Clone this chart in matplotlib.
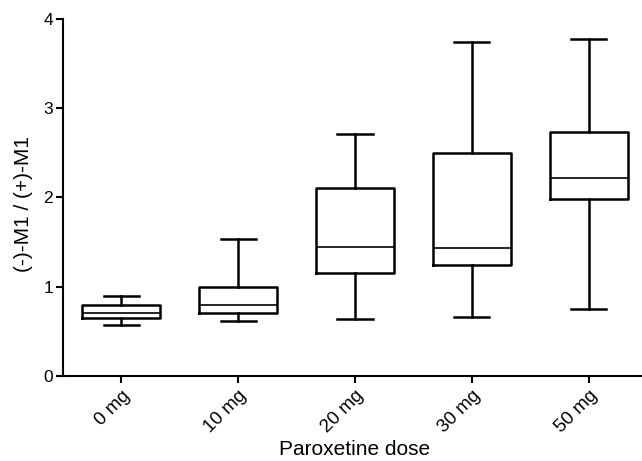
import numpy as np
import matplotlib
matplotlib.use("Agg")
import matplotlib.pyplot as plt

plt.rcParams['font.family'] = ['Liberation Sans', 'DejaVu Sans']

# box plot values
doses = ['0 mg', '10 mg', '20 mg', '30 mg', '50 mg']
whisLo = [0.57, 0.62, 0.64, 0.66, 0.75]
q1 = [0.65, 0.71, 1.15, 1.24, 1.98]
med = [0.71, 0.80, 1.44, 1.43, 2.22]
q3 = [0.80, 1.00, 2.10, 2.50, 2.73]
whisHi = [0.89, 1.53, 2.71, 3.74, 3.77]

stats = []
for i in range(len(doses)):
    stats.append({'whislo': whisLo[i], 'q1': q1[i], 'med': med[i],
                  'q3': q3[i], 'whishi': whisHi[i], 'fliers': []})

fig = plt.figure(figsize=(6.42, 4.61), dpi=100)
ax = fig.add_axes([0.098, 0.1844, 0.910, 0.775])

ax.bxp(stats, positions=np.arange(1, len(doses) + 1), widths=0.67,
       showfliers=False,
       boxprops={'color': 'black', 'linewidth': 1.8},
       whiskerprops={'color': 'black', 'linewidth': 1.8},
       capprops={'color': 'black', 'linewidth': 1.8},
       medianprops={'color': 'black', 'linewidth': 1.2},
       capwidths=0.3)

ax.set_xlim(0.5, 5.5)
ax.set_ylim(0, 4)
ax.set_yticks([0, 1, 2, 3, 4])
ax.set_xticks(np.arange(1, len(doses) + 1))
ax.set_xticklabels(doses, rotation=45, ha='right', rotation_mode='anchor')

for side in ['top', 'right']:
    ax.spines[side].set_visible(False)
for side in ['left', 'bottom']:
    ax.spines[side].set_linewidth(1.5)
ax.tick_params(axis='both', direction='out', length=5, width=1.5, colors='black')
ax.tick_params(axis='y', labelsize=12.5, pad=2)
ax.tick_params(axis='x', labelsize=13.5, pad=3)

ax.set_xlabel('Paroxetine dose', fontsize=15, labelpad=3)
ax.set_ylabel('(-)-M1 / (+)-M1', fontsize=15)
ax.yaxis.set_label_coords(-0.052, 0.48)

fig.savefig('out.png', dpi=100)
